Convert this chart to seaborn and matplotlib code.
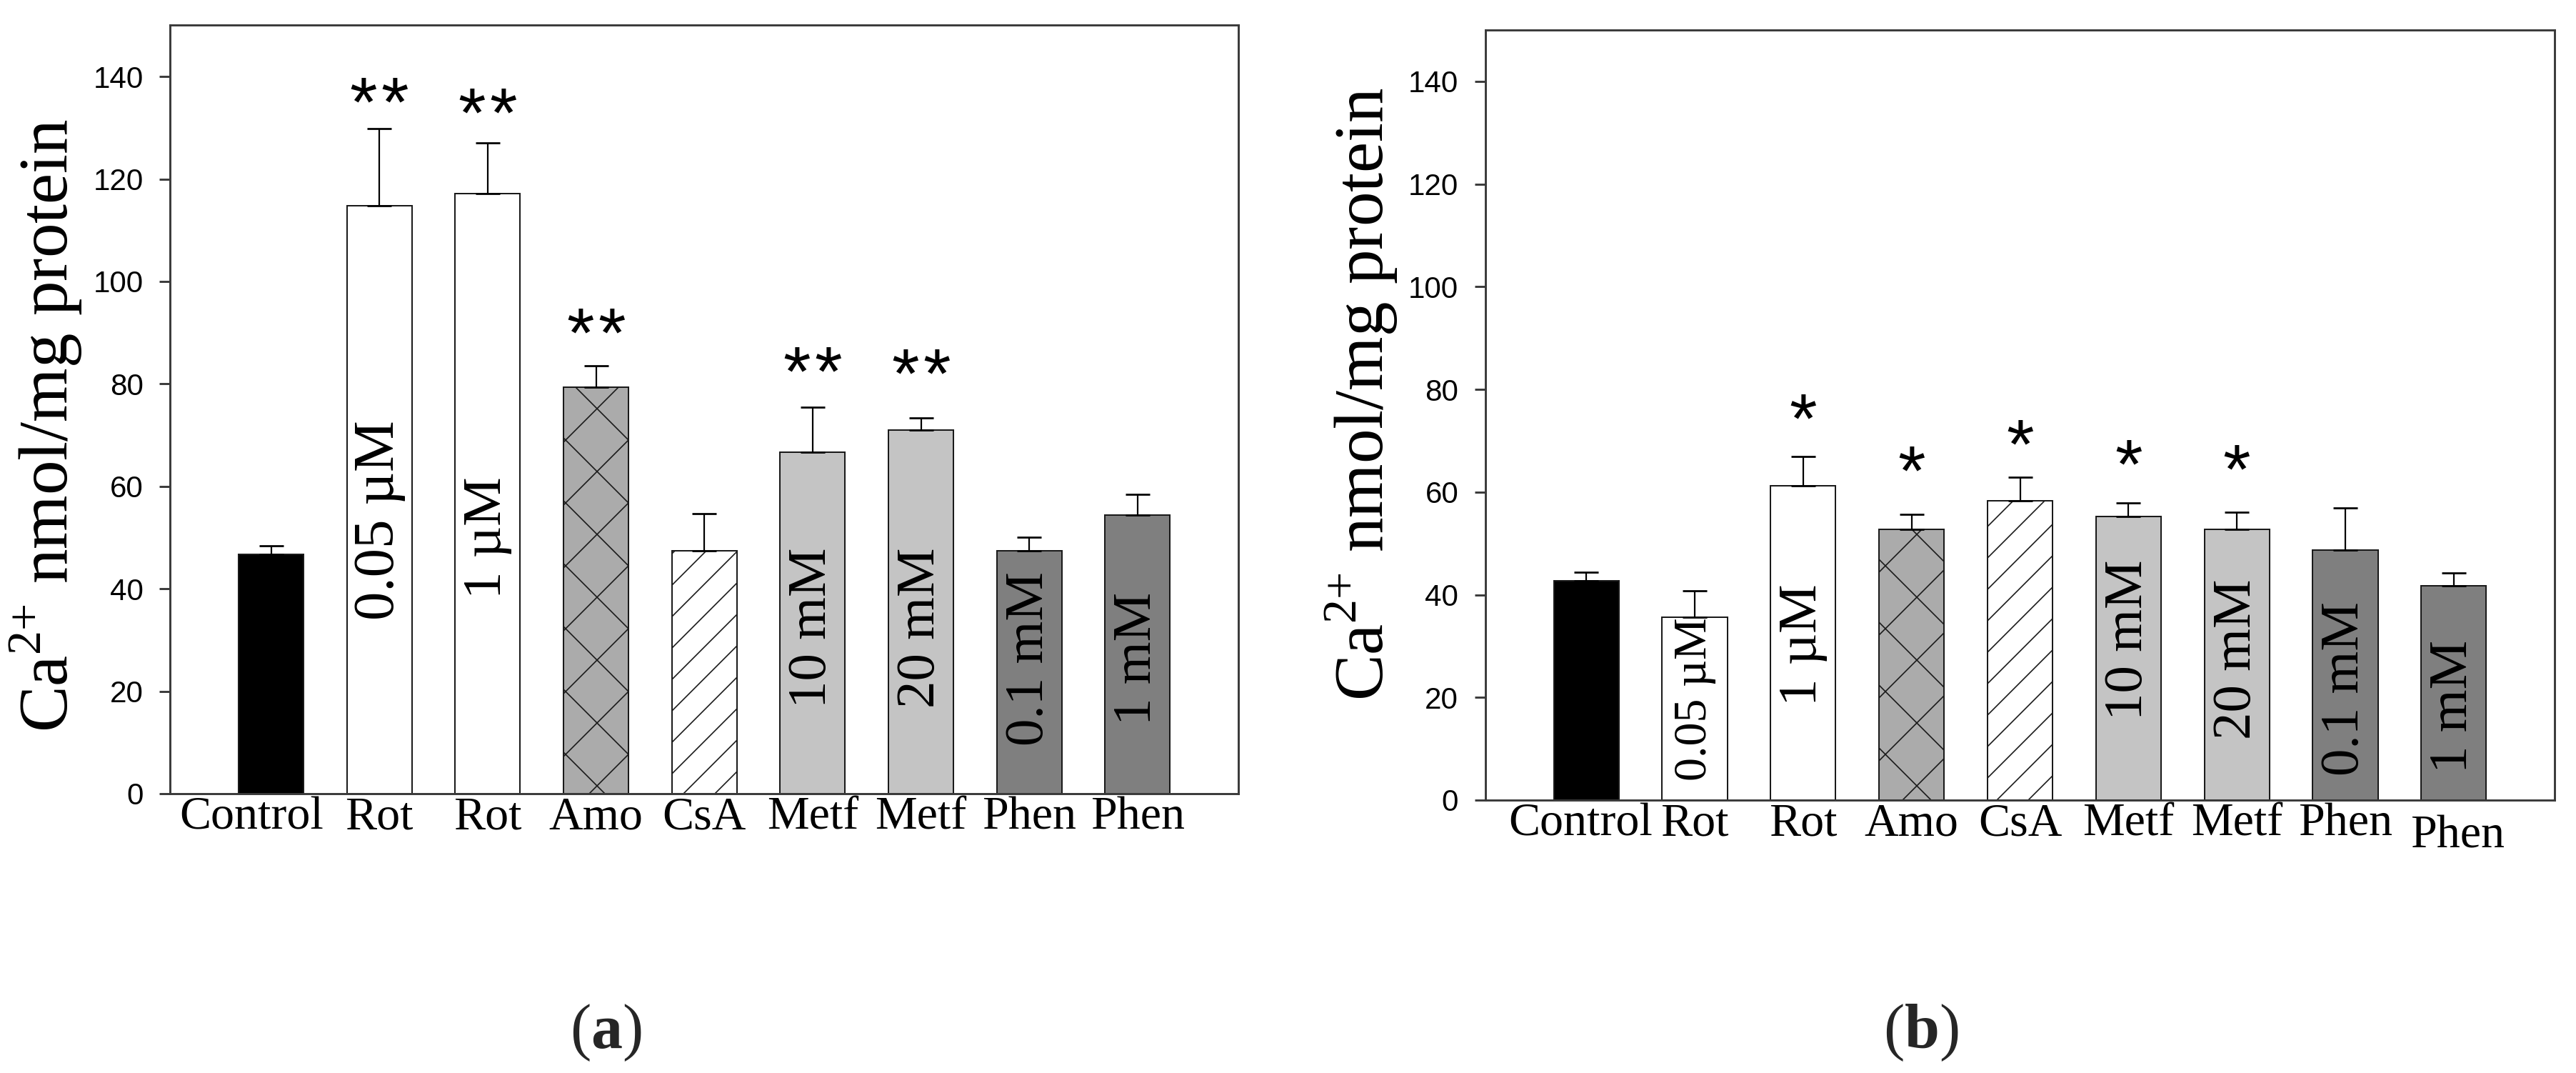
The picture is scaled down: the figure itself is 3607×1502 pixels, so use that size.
import numpy as np
import matplotlib
matplotlib.use("Agg")
import matplotlib.pyplot as plt
import matplotlib.transforms as mtransforms
import seaborn as sns

# --- dữ liệu ---
groups = ["Control", "Rot 0.05", "Rot 1", "Amo", "CsA", "Metf 10", "Metf 20", "Phen 0.1", "Phen 1"]
tick_labels = ["Control", "Rot", "Rot", "Amo", "CsA", "Metf", "Metf", "Phen", "Phen"]
dose_labels = ["", "0.05 µM", "1 µM", "", "", "10 mM", "20 mM", "0.1 mM", "1 mM"]
fills = ["black", "white", "white", "#ababab", "white", "#c4c4c4", "#c4c4c4", "#7f7f7f", "#7f7f7f"]
hatches = ["", "", "", "x", "//", "", "", "", ""]

mean_a = [46.7, 114.8, 117.2, 79.3, 47.4, 66.7, 71.0, 47.4, 54.4]
err_a = [1.7, 15.0, 9.9, 4.3, 7.3, 8.7, 2.3, 2.7, 4.0]
stars_a = ["", "**", "**", "**", "", "**", "**", "", ""]
star_y_a = [0, 138.4, 136.3, 93.3, 0, 85.8, 85.4, 0, 0]
dose_y_a = [0, 53.4, 50.0, 0, 0, 32.4, 32.4, 26.3, 26.3]

mean_b = [42.7, 35.6, 61.2, 52.7, 58.3, 55.2, 52.7, 48.7, 41.8]
err_b = [1.7, 5.2, 5.7, 2.9, 4.6, 2.7, 3.4, 8.2, 2.5]
stars_b = ["", "", "*", "*", "*", "*", "*", "", ""]
star_y_b = [0, 0, 77.6, 67.5, 72.7, 68.7, 67.8, 0, 0]
dose_y_b = [0, 19.6, 30.3, 0, 0, 31.2, 27.5, 21.7, 18.2]

y_ticks = [0, 20, 40, 60, 80, 100, 120, 140]

sns.set_theme(style="white")
plt.rcParams["font.family"] = ["Liberation Serif", "DejaVu Serif"]
plt.rcParams["mathtext.fontset"] = "custom"
plt.rcParams["mathtext.rm"] = "Liberation Serif"
plt.rcParams["mathtext.bf"] = "Liberation Serif:bold"
plt.rcParams["hatch.linewidth"] = 0.45

DPI = 264
fig = plt.figure(figsize=(3607 / DPI, 1502 / DPI), facecolor="white")
ax_a = fig.add_axes([0.06612, 0.26032, 0.41462, 0.71605])
ax_b = fig.add_axes([0.57666, 0.25433, 0.41503, 0.71771])


def shift_label(lbl, dx_pt, dy_pt):
    lbl.set_transform(lbl.get_transform()
                      + mtransforms.ScaledTranslation(dx_pt / 72, dy_pt / 72, fig.dpi_scale_trans))


def draw_panel(ax, means, errs, stars, star_y, dose_y, dose_sizes, label_xy):
    sns.barplot(x=groups, y=means, hue=groups, palette=fills, legend=False,
                width=0.6, edgecolor="#1a1a1a", linewidth=0.55, errorbar=None,
                saturation=1, ax=ax)
    for patch, h in zip(ax.patches, hatches):
        patch.set_hatch(h)
    xs = np.arange(len(groups))
    ax.errorbar(xs, means, yerr=[np.zeros(len(errs)), errs], fmt="none",
                ecolor="black", elinewidth=0.6, capsize=4.6, capthick=0.75, zorder=3)

    for i, (lab, y, fs) in enumerate(zip(dose_labels, dose_y, dose_sizes)):
        if lab:
            ax.text(i, y, lab, rotation=90, ha="center", va="center",
                    fontsize=fs, color="black", zorder=4)
    # mỗi dấu * vẽ riêng để có khoảng cách giống bản gốc
    for i, (s, y) in enumerate(zip(stars, star_y)):
        for k in range(len(s)):
            dx = (k - (len(s) - 1) / 2) * 12
            ax.annotate("*", (i, y), xytext=(dx, -15.7), textcoords="offset points",
                        ha="center", va="baseline", fontsize=27,
                        family="Liberation Sans", color="black")

    ax.set_xlim(-0.93, 8.93)
    ax.set_ylim(0, 150)
    ax.set_yticks(y_ticks)
    ax.set_yticklabels([str(t) for t in y_ticks], family="Liberation Sans")
    ax.set_xticks(xs)
    ax.set_xticklabels(tick_labels)
    ax.tick_params(axis="y", direction="out", length=4, width=0.8, pad=6.3,
                   labelsize=11.5, left=True, color="#3a3a3a", labelcolor="black")
    ax.tick_params(axis="x", length=0, pad=1, labelsize=18, labelcolor="black")
    ax.set_xlabel("")
    ax.set_ylabel(r"$\mathrm{Ca}^{2{+}}$ nmol/mg protein", fontsize=26.5,
                  color="black")
    ax.yaxis.set_label_coords(*label_xy)
    for sp in ax.spines.values():
        sp.set_visible(True)
        sp.set_color("#3a3a3a")
        sp.set_linewidth(0.8)


draw_panel(ax_a, mean_a, err_a, stars_a, star_y_a, dose_y_a,
           [21, 22, 21, 21, 21, 21, 21, 21, 21], (-0.0806, 0.479))
draw_panel(ax_b, mean_b, err_b, stars_b, star_y_b, dose_y_b,
           [21, 18, 21, 21, 21, 21, 21, 21, 21], (-0.0802, 0.527))

shift_label(ax_a.get_xticklabels()[0], -7.4, 0)
shift_label(ax_b.get_xticklabels()[0], -2.2, 0)
shift_label(ax_b.get_xticklabels()[-1], 1.5, -4.6)

fig.text(848 / 3607, 1 - 1446 / 1502, r"($\mathbf{a}$)", ha="center", va="center", fontsize=24)
fig.text(2690 / 3607, 1 - 1446 / 1502, r"($\mathbf{b}$)", ha="center", va="center", fontsize=24)

fig.savefig("out.png", dpi=DPI)
plt.close(fig)
